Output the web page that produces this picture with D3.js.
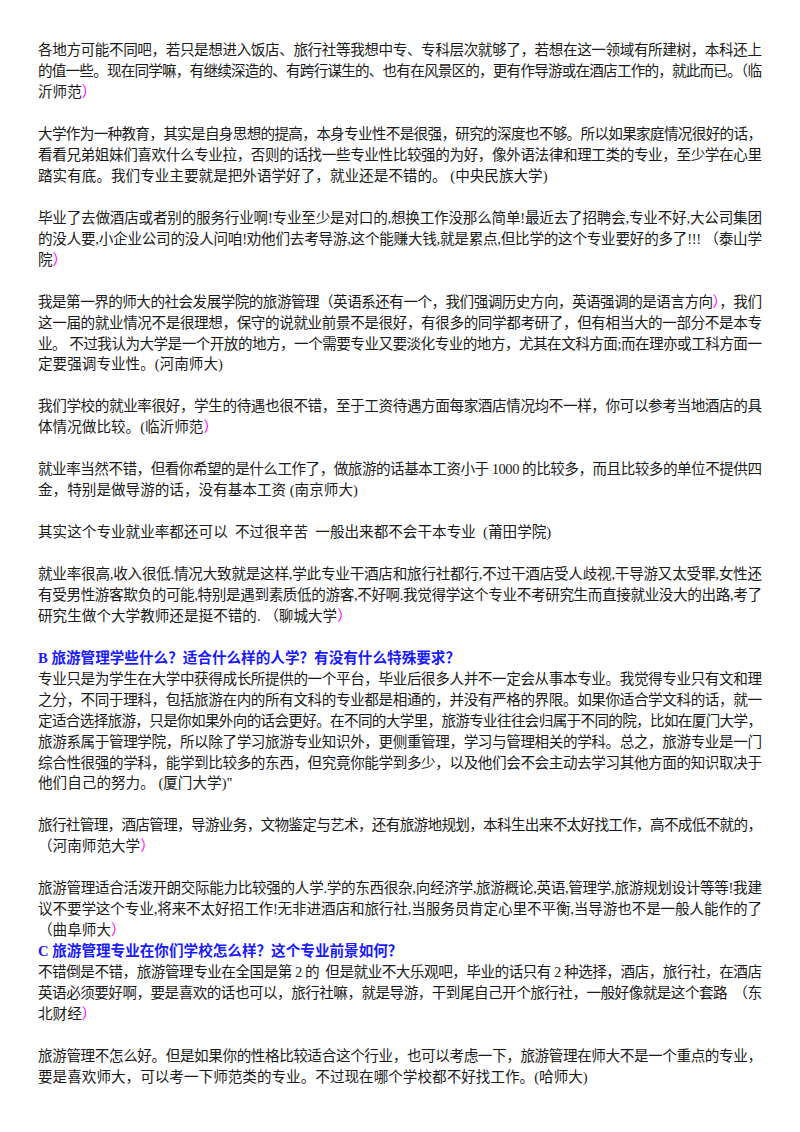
<!DOCTYPE html>
<html><head><meta charset="utf-8">
<script src="https://cdn.jsdelivr.net/npm/d3@7"></script>
<style>body{margin:0;background:#fff}</style></head>
<body><svg id="c" width="800" height="1132"></svg>
<script>
// [line index, text, justified, kind]  kind: t=text, h=heading ; "§" marks a magenta char
const lines = [
[0,"各地方可能不同吧，若只是想进入饭店、旅行社等我想中专、专科层次就够了，若想在这一领域有所建树，本科还上",1,"t"],
[1,"的值一些。现在同学嘛，有继续深造的、有跨行谋生的、也有在风景区的，更有作导游或在酒店工作的，就此而已。（临",1,"t"],
[2,"沂师范§）",0,"t"],
[4,"大学作为一种教育，其实是自身思想的提高，本身专业性不是很强，研究的深度也不够。所以如果家庭情况很好的话，",1,"t"],
[5,"看看兄弟姐妹们喜欢什么专业拉，否则的话找一些专业性比较强的为好，像外语法律和理工类的专业，至少学在心里",1,"t"],
[6,"踏实有底。我们专业主要就是把外语学好了，就业还是不错的。 (中央民族大学)",0,"t"],
[8,"毕业了去做酒店或者别的服务行业啊!专业至少是对口的,想换工作没那么简单!最近去了招聘会,专业不好,大公司集团",1,"t"],
[9,"的没人要,小企业公司的没人问咱!劝他们去考导游,这个能赚大钱,就是累点,但比学的这个专业要好的多了!!! （泰山学",1,"t"],
[10,"院§）",0,"t"],
[12,"我是第一界的师大的社会发展学院的旅游管理（英语系还有一个，我们强调历史方向，英语强调的是语言方向§），我们",1,"t"],
[13,"这一届的就业情况不是很理想，保守的说就业前景不是很好，有很多的同学都考研了，但有相当大的一部分不是本专",1,"t"],
[14,"业。 不过我认为大学是一个开放的地方，一个需要专业又要淡化专业的地方，尤其在文科方面;而在理亦或工科方面一",1,"t"],
[15,"定要强调专业性。(河南师大)",0,"t"],
[17,"我们学校的就业率很好，学生的待遇也很不错，至于工资待遇方面每家酒店情况均不一样，你可以参考当地酒店的具",1,"t"],
[18,"体情况做比较。(临沂师范§）",0,"t"],
[20,"就业率当然不错，但看你希望的是什么工作了，做旅游的话基本工资小于 1000 的比较多，而且比较多的单位不提供四",1,"t"],
[21,"金，特别是做导游的话，没有基本工资 (南京师大)",0,"t"],
[23,"其实这个专业就业率都还可以  不过很辛苦  一般出来都不会干本专业  (莆田学院)",0,"t"],
[25,"就业率很高,收入很低.情况大致就是这样,学此专业干酒店和旅行社都行,不过干酒店受人歧视,干导游又太受罪,女性还",1,"t"],
[26,"有受男性游客欺负的可能,特别是遇到素质低的游客,不好啊.我觉得学这个专业不考研究生而直接就业没大的出路,考了",1,"t"],
[27,"研究生做个大学教师还是挺不错的. （聊城大学§）",0,"t"],
[29,"B 旅游管理学些什么？适合什么样的人学？有没有什么特殊要求？",0,"h"],
[30,"专业只是为学生在大学中获得成长所提供的一个平台，毕业后很多人并不一定会从事本专业。我觉得专业只有文和理",1,"t"],
[31,"之分，不同于理科，包括旅游在内的所有文科的专业都是相通的，并没有严格的界限。如果你适合学文科的话，就一",1,"t"],
[32,"定适合选择旅游，只是你如果外向的话会更好。在不同的大学里，旅游专业往往会归属于不同的院，比如在厦门大学，",1,"t"],
[33,"旅游系属于管理学院，所以除了学习旅游专业知识外，更侧重管理，学习与管理相关的学科。总之，旅游专业是一门",1,"t"],
[34,"综合性很强的学科，能学到比较多的东西，但究竟你能学到多少，以及他们会不会主动去学习其他方面的知识取决于",1,"t"],
[35,"他们自己的努力。 (厦门大学)\"",0,"t"],
[37,"旅行社管理，酒店管理，导游业务，文物鉴定与艺术，还有旅游地规划，本科生出来不太好找工作，高不成低不就的，",1,"t"],
[38,"（河南师范大学§）",0,"t"],
[40,"旅游管理适合活泼开朗交际能力比较强的人学.学的东西很杂,向经济学,旅游概论,英语,管理学,旅游规划设计等等!我建",1,"t"],
[41,"议不要学这个专业,将来不太好招工作!无非进酒店和旅行社,当服务员肯定心里不平衡,当导游也不是一般人能作的了",1,"t"],
[42,"（曲阜师大§）",0,"t"],
[43,"C 旅游管理专业在你们学校怎么样？这个专业前景如何？",0,"h"],
[44,"不错倒是不错，旅游管理专业在全国是第 2 的  但是就业不大乐观吧，毕业的话只有 2 种选择，酒店，旅行社，在酒店",1,"t"],
[45,"英语必须要好啊，要是喜欢的话也可以，旅行社嘛，就是导游，干到尾自己开个旅行社，一般好像就是这个套路  （东",1,"t"],
[46,"北财经§）",0,"t"],
[48,"旅游管理不怎么好。但是如果你的性格比较适合这个行业，也可以考虑一下，旅游管理在师大不是一个重点的专业，",1,"t"],
[49,"要是喜欢师大，可以考一下师范类的专业。不过现在哪个学校都不好找工作。(哈师大)",0,"t"]
];
const svg = d3.select("#c");
const y = d3.scaleLinear().domain([0,49]).range([50,1076.5]);
const left = 38, width = 724;
lines.forEach(([i, s, just, kind]) => {
  const t = svg.append("text")
    .attr("x", left).attr("y", y(i)).attr("dy","0.36em")
    .attr("font-family","'Liberation Serif','Noto Sans CJK SC',serif")
    .attr("font-size", 14.6)
    .attr("fill", kind==="h" ? "#1a1aff" : "#1a1a1a")
    .attr("font-weight", kind==="h" ? "bold" : "normal")
    .attr("xml:space","preserve");
  if (just) t.attr("textLength", width).attr("lengthAdjust","spacing");
  const parts = s.split("§");
  parts.forEach((p, k) => {
    if (k === 0) { if (p) t.append("tspan").text(p); return; }
    t.append("tspan").attr("fill","#ff00ff").text(p[0]);
    if (p.length > 1) t.append("tspan").text(p.slice(1));
  });
});
</script></body></html>
